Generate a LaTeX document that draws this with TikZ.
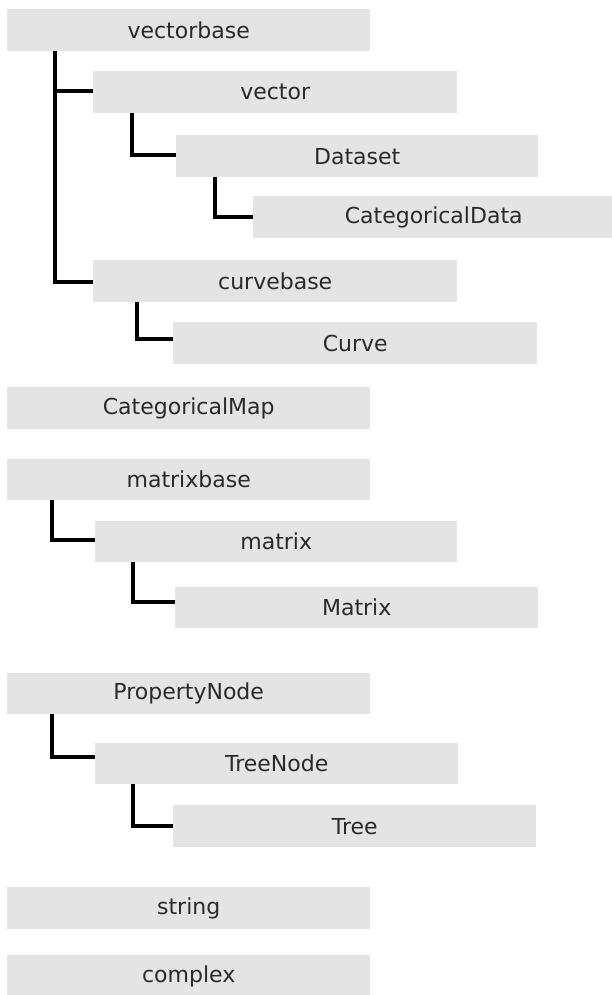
\documentclass[tikz,border=0pt]{standalone}
\usepackage{fontspec}
\setmainfont{DejaVu Sans}
\definecolor{boxgray}{HTML}{E4E4E4}
\definecolor{txtgray}{HTML}{2A2A2A}
\tikzset{
  cls/.style={rectangle, fill=boxgray, draw=none, inner sep=0pt, anchor=north west,
    minimum height=42pt, text=txtgray, font=\fontsize{22}{26}\selectfont},
  conn/.style={draw=black, line width=3.3pt, line join=miter}
}
\begin{document}
\begin{tikzpicture}[x=1pt,y=-1pt]
\useasboundingbox[fill=white] (0,0) rectangle (612,995);
% boxes
\node[cls, minimum width=363pt] (vectorbase) at (7,9) {vectorbase};
\node[cls, minimum width=364pt] (vector) at (93,71) {vector};
\node[cls, minimum width=362pt] (Dataset) at (176,135) {Dataset};
\node[cls, minimum width=361pt] (CategoricalData) at (253,196) {CategoricalData};
\node[cls, minimum width=364pt] (curvebase) at (93,260) {curvebase};
\node[cls, minimum width=364pt] (Curve) at (173,322) {Curve};
\node[cls, minimum width=363pt] (CategoricalMap) at (7,387) {CategoricalMap};
\node[cls, minimum width=363pt, minimum height=41pt] (matrixbase) at (7,459) {matrixbase};
\node[cls, minimum width=362pt, minimum height=41pt] (matrix) at (95,521) {matrix};
\node[cls, minimum width=363pt, minimum height=41pt] (Matrix) at (175,587) {Matrix};
\node[cls, minimum width=363pt, minimum height=41pt] (PropertyNode) at (7,673) {PropertyNode};
\node[cls, minimum width=363pt, minimum height=41pt] (TreeNode) at (95,743) {TreeNode};
\node[cls, minimum width=363pt, minimum height=42pt] (Tree) at (173,805) {Tree};
\node[cls, minimum width=363pt] (string) at (7,887) {string};
\node[cls, minimum width=363pt] (complex) at (7,955) {complex};
% connectors
\draw[conn] ([xshift=48pt]vectorbase.south west) |- ([yshift=-20pt]vector.north west);
\draw[conn] ([xshift=48pt]vectorbase.south west) |- ([yshift=-22pt]curvebase.north west);
\draw[conn] ([xshift=39pt]vector.south west) |- ([yshift=-20pt]Dataset.north west);
\draw[conn] ([xshift=39pt]Dataset.south west) |- ([yshift=-21pt]CategoricalData.north west);
\draw[conn] ([xshift=44pt]curvebase.south west) |- ([yshift=-17pt]Curve.north west);
\draw[conn] ([xshift=45pt]matrixbase.south west) |- ([yshift=-19pt]matrix.north west);
\draw[conn] ([xshift=38pt]matrix.south west) |- ([yshift=-15pt]Matrix.north west);
\draw[conn] ([xshift=45pt]PropertyNode.south west) |- ([yshift=-14pt]TreeNode.north west);
\draw[conn] ([xshift=38pt]TreeNode.south west) |- ([yshift=-21pt]Tree.north west);
\end{tikzpicture}
\end{document}
